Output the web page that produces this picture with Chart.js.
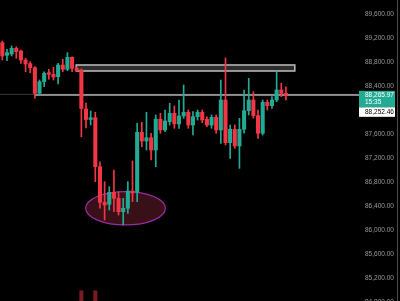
<!DOCTYPE html>
<html><head><meta charset="utf-8">
<script src="https://cdn.jsdelivr.net/npm/chart.js@4"></script>
<style>html,body{margin:0;padding:0;background:#000;overflow:hidden}#wrap{width:400px;height:301px;position:relative}</style>
</head><body><div id="wrap"><canvas id="c" width="400" height="301"></canvas></div>
<script>
// ---- data ----
const opens  = [89127,88917,88938,89033,88988,88838,88777,88710,88283,88477,88627,88600,88560,88755,88683,88883,88700,88672,88022,87847,87877,87060,86467,86433,86633,86533,86310,86367,86655,86633,87633,87488,87543,87338,87850,87672,87810,87950,87772,87905,87967,87755,87893,87967,87850,87755,87883,87672,88172,87460,87683,87405,87683,87993,88172,87910,87617,88133,88077,88172,88338,88283];
const highs  = [89155,89017,89072,89060,89005,88867,88810,88727,88505,88643,88683,88717,88783,88850,88960,88893,88722,88688,88122,87988,87967,87143,86810,86727,87005,86643,86533,86810,87155,87783,87800,87967,87617,87922,87950,88005,88117,88072,88172,88422,88005,87977,88005,88005,87893,87922,87922,88505,88872,87755,87755,87867,88338,88533,88310,88005,88172,88172,88227,88643,88450,88393];
const lows   = [88838,88827,88905,88867,88783,88643,88627,88200,88255,88393,88517,88505,88438,88643,88660,88643,88655,87560,87705,87755,86810,86367,86172,86338,86310,86255,86088,86283,86477,86477,87393,87338,87172,87060,87617,87643,87755,87700,87700,87867,87700,87588,87838,87793,87727,87700,87617,87450,87422,87200,87367,87033,87617,87922,87867,87533,87588,88005,88033,88143,88227,88172];
const closes = [88905,88960,89033,88977,88838,88772,88710,88283,88477,88617,88600,88555,88755,88683,88883,88700,88660,88030,87847,87877,87060,86467,86422,86633,86533,86310,86367,86655,86622,87633,87488,87543,87338,87850,87672,87822,87950,87772,87905,87967,87755,87893,87967,87838,87755,87883,87672,88172,87460,87683,87405,87683,87993,88172,87910,87617,88133,88077,88172,88338,88283,88252];
// only the two volume bars that reach into the visible area are known
const volumes = [null,null,null,null,null,null,null,null,null,null,null,null,null,null,null,null,null,3.4,null,null,3.4];
const futureSlots = 15;
const yTicks = [84800,85200,85600,86000,86400,86800,87200,87600,88000,88400,88800,89200,89600];
const yMin = 84822, yMax = 89838;
const lastPrice = 88265.97;
const countdown = '15:35';
const secondPrice = 88252.46;
const rayStart = 7, rayPrice = 88255;
const zoneFrom = 15.9, zoneTo = 62.9, zoneTop = 88755, zoneBottom = 88655;
const ellCenter = 26.5, ellHalfW = 8.57, ellPrice = 86367, ellHalfH = 278;

// ---- chart ----
const UP = '#22ab94', DOWN = '#f23645';
const labels = Array.from({length: opens.length + futureSlots}, (_, i) => String(i + 1));
const colors = opens.map((o, i) => closes[i] >= o ? UP : DOWN);
const fmt = v => Number(v).toLocaleString('en-US', {minimumFractionDigits: 2, maximumFractionDigits: 2});
const FONT = '6.5px "Liberation Sans"';

const drawings = {
  id: 'drawings',
  beforeDatasetsDraw(chart) {
    const {ctx, chartArea: a, scales: {x, y}} = chart;
    ctx.save();
    // ellipse
    const cx = x.getPixelForValue(ellCenter), cy = y.getPixelForValue(ellPrice);
    const rx = x.getPixelForValue(ellCenter + ellHalfW) - cx;
    const ry = y.getPixelForValue(ellPrice - ellHalfH) - cy;
    ctx.beginPath();
    ctx.ellipse(cx, cy, rx, ry, 0, 0, Math.PI * 2);
    ctx.fillStyle = '#3a1018';
    ctx.fill();
    ctx.lineWidth = 1.2;
    ctx.strokeStyle = '#9c2ca6';
    ctx.stroke();
    // zone rectangle
    const zx1 = x.getPixelForValue(zoneFrom), zx2 = x.getPixelForValue(zoneTo);
    const zy1 = y.getPixelForValue(zoneTop), zy2 = y.getPixelForValue(zoneBottom);
    ctx.fillStyle = '#2c2c2c';
    ctx.fillRect(zx1, zy1, zx2 - zx1, zy2 - zy1);
    ctx.lineWidth = 1.6;
    ctx.strokeStyle = '#b4b4b4';
    ctx.strokeRect(zx1, zy1, zx2 - zx1, zy2 - zy1);
    // current price line (dim) and horizontal ray (bright)
    const py = y.getPixelForValue(lastPrice);
    ctx.lineWidth = 1;
    ctx.strokeStyle = '#3a3a3a';
    ctx.beginPath(); ctx.moveTo(a.left, py); ctx.lineTo(a.right, py); ctx.stroke();
    const ry2 = y.getPixelForValue(rayPrice);
    ctx.lineWidth = 1.6;
    ctx.strokeStyle = '#b0b0b0';
    ctx.beginPath(); ctx.moveTo(x.getPixelForValue(rayStart), ry2); ctx.lineTo(a.right + 1, ry2); ctx.stroke();
    ctx.restore();
  },
  afterDraw(chart) {
    const {ctx, chartArea: a, scales: {y}} = chart;
    ctx.save();
    const py = y.getPixelForValue(lastPrice);
    const bx = a.right + 1, bw = 36;
    ctx.fillStyle = UP;
    ctx.fillRect(bx, py - 3.5, bw, 16.5);
    ctx.fillStyle = '#ffffff';
    ctx.fillRect(bx, py + 13, bw, 9.5);
    ctx.font = FONT;
    ctx.textBaseline = 'middle';
    ctx.textAlign = 'left';
    ctx.fillStyle = '#ffffff';
    ctx.fillText(fmt(lastPrice), a.right + 7, py + 1);
    ctx.fillText(countdown, a.right + 7, py + 8);
    ctx.fillStyle = '#000000';
    ctx.fillText(fmt(secondPrice), a.right + 7, py + 17.8);
    // right border
    ctx.fillStyle = '#4a4a4a';
    ctx.fillRect(397, 0, 1, chart.height);
    ctx.restore();
  }
};

new Chart(document.getElementById('c'), {
  type: 'bar',
  data: {
    labels,
    datasets: [
      {label: 'Volume', data: volumes, yAxisID: 'yv', backgroundColor: 'rgba(242,54,69,0.5)', barThickness: 3.4, grouped: false, order: 3},
      {label: 'Wick', data: lows.map((l, i) => [l, highs[i]]), backgroundColor: colors, barThickness: 1, grouped: false, order: 2},
      {label: 'Body', data: opens.map((o, i) => [o, closes[i]]), backgroundColor: colors, barThickness: 3.4, minBarLength: 1, grouped: false, order: 1}
    ]
  },
  options: {
    responsive: false, animation: false, events: [],
    layout: {padding: 0},
    plugins: {legend: {display: false}, tooltip: {enabled: false}},
    scales: {
      x: {display: false, offset: true},
      y: {
        position: 'right', min: yMin, max: yMax,
        grid: {display: false, drawTicks: false}, border: {display: false},
        afterFit: s => { s.width = 42; s.paddingTop = 0; s.paddingBottom = 0; },
        afterBuildTicks: s => { s.ticks = yTicks.map(v => ({value: v})); },
        ticks: {color: '#9a9a9a', padding: 7, autoSkip: false, font: {family: 'Liberation Sans', size: 6.5}, callback: v => fmt(v)}
      },
      yv: {display: false, min: 0, max: 100}
    }
  },
  plugins: [drawings]
});
</script>
</body></html>
